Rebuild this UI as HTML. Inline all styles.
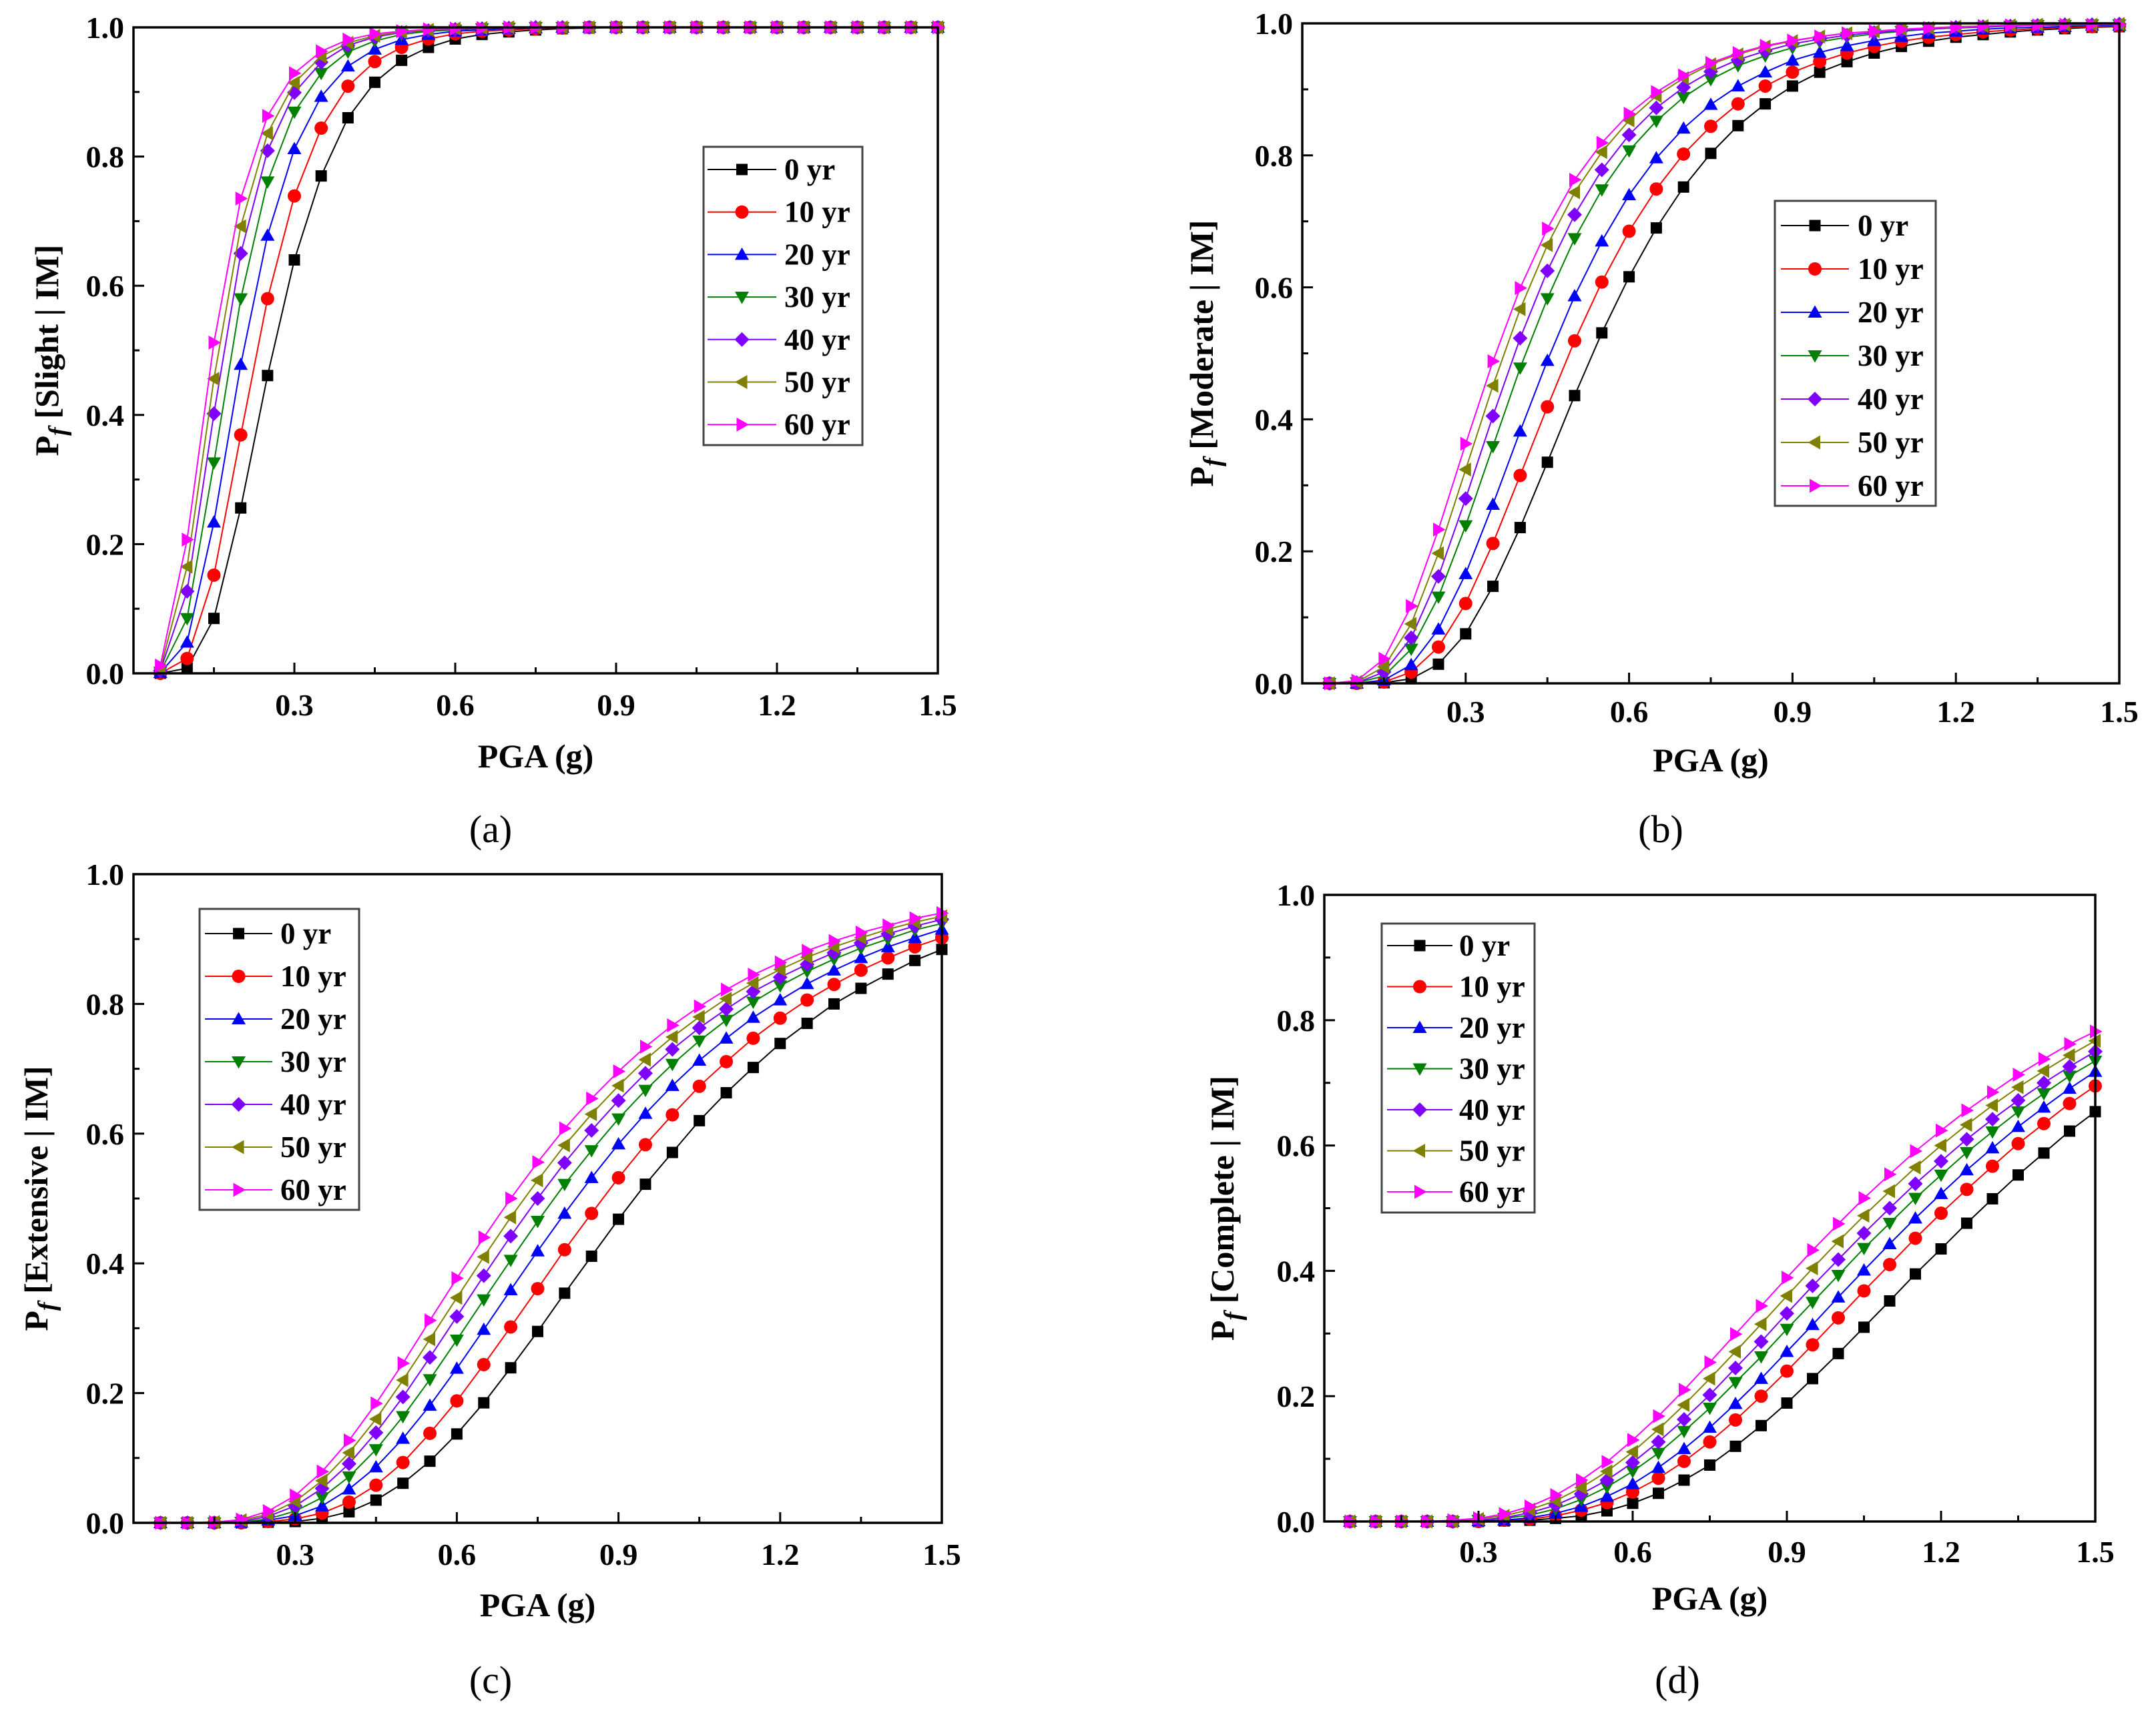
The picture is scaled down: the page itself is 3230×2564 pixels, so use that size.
<!DOCTYPE html>
<html><head><meta charset="utf-8">
<style>
html,body{margin:0;padding:0;background:#fff;}
svg{display:block;font-family:"Liberation Serif",serif;font-weight:bold;}
</style></head>
<body>
<svg id="chart" width="3230" height="2564" viewBox="0 0 3230 2564" xmlns="http://www.w3.org/2000/svg"></svg>
<script>
const xValues = [0.05,0.1,0.15,0.2,0.25,0.3,0.35,0.4,0.45,0.5,0.55,0.6,0.65,0.7,0.75,0.8,0.85,0.9,0.95,1.0,1.05,1.1,1.15,1.2,1.25,1.3,1.35,1.4,1.45,1.5];
const seriesNames = ["0 yr","10 yr","20 yr","30 yr","40 yr","50 yr","60 yr"];
const xTickLabels = ["0.3","0.6","0.9","1.2","1.5"];
const xTickValues = [0.3,0.6,0.9,1.2,1.5];
const yTickLabels = ["0.0","0.2","0.4","0.6","0.8","1.0"];
const yTickValues = [0,0.2,0.4,0.6,0.8,1.0];

const slight0  = [0,0.008,0.085,0.256,0.461,0.640,0.770,0.860,0.915,0.949,0.969,0.982,0.989,0.993,0.996,0.998,0.999,1,1,1,1,1,1,1,1,1,1,1,1,1];
const slight10 = [0,0.023,0.152,0.369,0.580,0.739,0.844,0.909,0.947,0.969,0.982,0.990,0.994,0.996,0.998,0.999,1,1,1,1,1,1,1,1,1,1,1,1,1,1];
const slight20 = [0.001,0.048,0.234,0.478,0.678,0.812,0.893,0.940,0.966,0.981,0.989,0.994,0.996,0.998,0.999,1,1,1,1,1,1,1,1,1,1,1,1,1,1,1];
const slight30 = [0.002,0.085,0.326,0.580,0.761,0.869,0.929,0.962,0.979,0.989,0.994,0.996,0.998,0.999,1,1,1,1,1,1,1,1,1,1,1,1,1,1,1,1];
const slight40 = [0.004,0.127,0.402,0.650,0.809,0.899,0.946,0.972,0.985,0.992,0.995,0.997,0.998,0.999,1,1,1,1,1,1,1,1,1,1,1,1,1,1,1,1];
const slight50 = [0.007,0.165,0.456,0.692,0.836,0.914,0.955,0.976,0.987,0.993,0.996,0.998,0.999,1,1,1,1,1,1,1,1,1,1,1,1,1,1,1,1,1];
const slight60 = [0.012,0.207,0.512,0.735,0.863,0.929,0.963,0.981,0.990,0.994,0.997,0.998,0.999,1,1,1,1,1,1,1,1,1,1,1,1,1,1,1,1,1];

const moderate0  = [0,0,0.001,0.007,0.029,0.075,0.147,0.236,0.335,0.436,0.531,0.616,0.690,0.752,0.803,0.845,0.878,0.905,0.926,0.942,0.955,0.965,0.973,0.979,0.983,0.987,0.990,0.992,0.994,0.995];
const moderate10 = [0,0,0.002,0.017,0.055,0.121,0.212,0.315,0.419,0.519,0.608,0.685,0.749,0.802,0.844,0.878,0.905,0.926,0.942,0.955,0.965,0.973,0.979,0.983,0.987,0.990,0.992,0.994,0.995,0.996];
const moderate20 = [0,0,0.005,0.028,0.082,0.166,0.271,0.382,0.489,0.587,0.670,0.740,0.796,0.841,0.877,0.905,0.926,0.944,0.956,0.966,0.974,0.980,0.985,0.988,0.991,0.993,0.994,0.995,0.997,0.997];
const moderate30 = [0,0.001,0.011,0.052,0.131,0.239,0.359,0.478,0.583,0.674,0.748,0.807,0.852,0.888,0.915,0.936,0.951,0.963,0.972,0.979,0.984,0.988,0.991,0.993,0.994,0.996,0.997,0.997,0.998,0.998];
const moderate40 = [0,0.001,0.017,0.069,0.162,0.280,0.405,0.523,0.625,0.710,0.778,0.831,0.872,0.903,0.927,0.945,0.958,0.969,0.976,0.982,0.986,0.989,0.992,0.994,0.995,0.996,0.997,0.998,0.998,0.999];
const moderate50 = [0,0.002,0.025,0.090,0.197,0.324,0.451,0.567,0.664,0.744,0.805,0.853,0.890,0.917,0.938,0.953,0.965,0.973,0.980,0.985,0.988,0.991,0.993,0.995,0.996,0.997,0.998,0.998,0.998,0.999];
const moderate60 = [0,0.004,0.037,0.117,0.233,0.363,0.488,0.599,0.689,0.763,0.819,0.863,0.896,0.921,0.940,0.955,0.966,0.974,0.980,0.985,0.988,0.991,0.993,0.994,0.996,0.997,0.997,0.998,0.998,0.998];

const extensive0  = [0,0,0,0,0.001,0.002,0.007,0.017,0.035,0.061,0.095,0.137,0.185,0.239,0.295,0.354,0.411,0.468,0.522,0.571,0.620,0.663,0.702,0.739,0.770,0.800,0.824,0.846,0.867,0.884];
const extensive10 = [0,0,0,0,0.002,0.006,0.015,0.032,0.058,0.093,0.138,0.188,0.244,0.302,0.361,0.421,0.477,0.532,0.583,0.629,0.673,0.711,0.747,0.778,0.806,0.830,0.852,0.871,0.888,0.902];
const extensive20 = [0,0,0,0.001,0.004,0.011,0.026,0.052,0.086,0.130,0.181,0.238,0.298,0.359,0.419,0.477,0.532,0.584,0.631,0.674,0.713,0.747,0.779,0.806,0.831,0.852,0.871,0.888,0.902,0.915];
const extensive30 = [0,0,0,0.001,0.006,0.018,0.039,0.071,0.113,0.164,0.221,0.282,0.344,0.405,0.465,0.522,0.574,0.623,0.667,0.707,0.743,0.775,0.803,0.828,0.850,0.869,0.886,0.900,0.914,0.924];
const extensive40 = [0,0,0,0.002,0.010,0.026,0.053,0.091,0.139,0.194,0.255,0.318,0.381,0.442,0.500,0.555,0.605,0.651,0.693,0.730,0.763,0.792,0.819,0.841,0.861,0.879,0.894,0.908,0.920,0.930];
const extensive50 = [0,0,0.001,0.004,0.013,0.033,0.065,0.108,0.160,0.220,0.283,0.347,0.410,0.471,0.528,0.582,0.630,0.674,0.714,0.749,0.780,0.808,0.832,0.853,0.872,0.888,0.902,0.915,0.926,0.935];
const extensive60 = [0,0,0.001,0.005,0.018,0.042,0.079,0.127,0.184,0.246,0.312,0.377,0.440,0.500,0.556,0.608,0.654,0.696,0.734,0.767,0.796,0.822,0.845,0.864,0.882,0.897,0.910,0.921,0.932,0.940];

const complete0  = [0,0,0,0,0,0,0.001,0.002,0.005,0.009,0.017,0.029,0.045,0.066,0.090,0.120,0.153,0.189,0.228,0.268,0.310,0.352,0.395,0.435,0.476,0.515,0.553,0.588,0.623,0.654];
const complete10 = [0,0,0,0,0,0,0.002,0.004,0.009,0.018,0.030,0.047,0.069,0.096,0.127,0.162,0.200,0.240,0.282,0.325,0.368,0.410,0.452,0.492,0.530,0.567,0.603,0.635,0.667,0.695];
const complete20 = [0,0,0,0,0,0.001,0.002,0.006,0.013,0.024,0.040,0.060,0.086,0.116,0.150,0.188,0.228,0.271,0.314,0.358,0.401,0.443,0.484,0.523,0.561,0.596,0.630,0.661,0.691,0.718];
const complete30 = [0,0,0,0,0,0.002,0.005,0.010,0.020,0.035,0.055,0.080,0.109,0.144,0.181,0.222,0.263,0.307,0.350,0.393,0.436,0.476,0.516,0.553,0.589,0.622,0.654,0.683,0.711,0.735];
const complete40 = [0,0,0,0,0,0.002,0.006,0.014,0.026,0.044,0.066,0.094,0.127,0.163,0.202,0.245,0.287,0.332,0.376,0.418,0.460,0.500,0.539,0.575,0.610,0.642,0.672,0.700,0.726,0.750];
const complete50 = [0,0,0,0,0,0.004,0.009,0.019,0.033,0.054,0.080,0.111,0.147,0.186,0.228,0.271,0.315,0.360,0.404,0.447,0.488,0.527,0.565,0.600,0.633,0.664,0.693,0.719,0.744,0.767];
const complete60 = [0,0,0,0,0.002,0.005,0.012,0.024,0.042,0.066,0.095,0.130,0.168,0.210,0.254,0.299,0.344,0.389,0.433,0.475,0.516,0.554,0.591,0.624,0.656,0.685,0.713,0.738,0.762,0.782];

const colors = ["#000000","#ff0000","#0000ff","#008000","#8000ff","#808000","#ff00ff"];
const shapes = ["square","circle","up","down","diamond","left","right"];

const panels = [
 {id:"a", state:"Slight", series:[slight0,slight10,slight20,slight30,slight40,slight50,slight60],
  L:200,R:1405,T:41,B:1009, xlabY:1072, titleY:1150, ytX:70, capX:735, capY:1262, lg:{x:1054,y:220,w:238,h:447,first:254,step:63.7,lx1:1060,lx2:1163,tx:1175}},
 {id:"b", state:"Moderate", series:[moderate0,moderate10,moderate20,moderate30,moderate40,moderate50,moderate60],
  L:1951,R:3175,T:35,B:1024, xlabY:1082, titleY:1156, ytX:1800, capX:2488, capY:1262, lg:{x:2659,y:301,w:241,h:457,first:338,step:65,lx1:2668,lx2:2770,tx:2783}},
 {id:"c", state:"Extensive", series:[extensive0,extensive10,extensive20,extensive30,extensive40,extensive50,extensive60],
  L:200,R:1411,T:1310,B:2282, xlabY:2345, titleY:2422, ytX:54, capX:735, capY:2537, lg:{x:299,y:1362,w:239,h:451,first:1399,step:64,lx1:307,lx2:408,tx:420}},
 {id:"d", state:"Complete", series:[complete0,complete10,complete20,complete30,complete40,complete50,complete60],
  L:1984,R:3139,T:1341,B:2280, xlabY:2341, titleY:2412, ytX:1831, capX:2513, capY:2537, lg:{x:2070,y:1384,w:229,h:433,first:1417,step:61.5,lx1:2078,lx2:2176,tx:2186}}
];

const NS = "http://www.w3.org/2000/svg";
const svg = document.getElementById("chart");
function mk(tag, attrs, parent){
  const e = document.createElementNS(NS, tag);
  for (const k in attrs) e.setAttribute(k, attrs[k]);
  (parent||svg).appendChild(e);
  return e;
}
function marker(g, shape, cx, cy, r, color){
  let e;
  if (shape==="square") e = mk("rect",{x:cx-r*0.85,y:cy-r*0.85,width:r*1.7,height:r*1.7,fill:color},g);
  else if (shape==="circle") e = mk("circle",{cx:cx,cy:cy,r:r,fill:color},g);
  else {
    let p;
    if (shape==="up") p=[[cx,cy-r*1.05],[cx+r*1.05,cy+r*0.8],[cx-r*1.05,cy+r*0.8]];
    else if (shape==="down") p=[[cx,cy+r*1.05],[cx+r*1.05,cy-r*0.8],[cx-r*1.05,cy-r*0.8]];
    else if (shape==="diamond") p=[[cx,cy-r*1.1],[cx+r*1.1,cy],[cx,cy+r*1.1],[cx-r*1.1,cy]];
    else if (shape==="left") p=[[cx-r*1.05,cy],[cx+r*0.8,cy-r*1.05],[cx+r*0.8,cy+r*1.05]];
    else p=[[cx+r*1.05,cy],[cx-r*0.8,cy-r*1.05],[cx-r*0.8,cy+r*1.05]];
    e = mk("polygon",{points:p.map(q=>q.join(",")).join(" "),fill:color},g);
  }
  return e;
}

panels.forEach(P=>{
  const xs = v => P.L + (v/1.5)*(P.R-P.L);
  const ys = v => P.B - v*(P.B-P.T);
  const g = mk("g",{});
  
  

  // series
  P.series.forEach((vals, si)=>{
    const sg = mk("g",{},g);
    
    
    const pts = vals.map((v,i)=>xs(xValues[i]).toFixed(1)+","+ys(v).toFixed(1)).join(" ");
    const line = mk("polyline",{points:pts,fill:"none",stroke:colors[si],"stroke-width":2},sg);
    
    
    vals.forEach((v,i)=>{
      const m = marker(sg, shapes[si], xs(xValues[i]), ys(v), 10, colors[si]);
      
      
    });
  });

  // frame
  const fr = mk("rect",{x:P.L,y:P.T,width:P.R-P.L,height:P.B-P.T,fill:"none",stroke:"#000","stroke-width":3.5},g);
  
  

  // x ticks
  for (let k=1;k<=10;k++){
    const v = k*0.15, major = (k%2===0);
    const t = mk("line",{x1:xs(v),x2:xs(v),y1:P.B,y2:P.B-(major?16:9),stroke:"#000","stroke-width":3},g);
    
    
  }
  xTickValues.forEach((v,i)=>{
    const t = mk("text",{x:xs(v),y:P.xlabY,"text-anchor":"middle","font-size":46},g);
    t.textContent = xTickLabels[i];
    
    
  });
  for (let k=1;k<=10;k++){
    const v = k*0.1, major = (k%2===0);
    const t = mk("line",{x1:P.L,x2:P.L+(major?16:9),y1:ys(v),y2:ys(v),stroke:"#000","stroke-width":3},g);
    
    
  }
  yTickValues.forEach((v,i)=>{
    const t = mk("text",{x:P.L-14,y:ys(v)+16,"text-anchor":"end","font-size":46},g);
    t.textContent = yTickLabels[i];
    
    
  });

  // axis titles
  const xt = mk("text",{x:(P.L+P.R)/2,y:P.titleY,"text-anchor":"middle","font-size":50},g);
  xt.textContent = "PGA (g)";
  
  
  const cy = (P.T+P.B)/2;
  const yt = mk("text",{x:0,y:0,"text-anchor":"middle","font-size":50,transform:"translate("+(P.ytX+17)+","+cy+") rotate(-90)"},g);
  
  
  const t1 = mk("tspan",{},yt); t1.textContent = "P";
  const t2 = mk("tspan",{"font-style":"italic","font-size":38,dy:12},yt); t2.textContent = "f";
  const t3 = mk("tspan",{dy:-12},yt); t3.textContent = " [" + P.state + " | IM]";

  // caption
  const cap = mk("text",{x:P.capX,y:P.capY,"text-anchor":"middle","font-size":58,"font-weight":"normal"},g);
  cap.textContent = "(" + P.id + ")";
  
  

  // legend
  const lg = P.lg;
  const lgG = mk("g",{},g);
  
  
  mk("rect",{x:lg.x,y:lg.y,width:lg.w,height:lg.h,fill:"#fff",stroke:"#444","stroke-width":3},lgG);
  seriesNames.forEach((n,si)=>{
    const eg = mk("g",{},lgG);
    
    
    const yy = lg.first + si*lg.step;
    mk("line",{x1:lg.lx1,x2:lg.lx2,y1:yy,y2:yy,stroke:colors[si],"stroke-width":2},eg);
    marker(eg, shapes[si], (lg.lx1+lg.lx2)/2, yy, 10, colors[si]);
    const tx = mk("text",{x:lg.tx,y:yy+15,"font-size":45},eg);
    tx.textContent = n;
  });
});
</script>
</body></html>
